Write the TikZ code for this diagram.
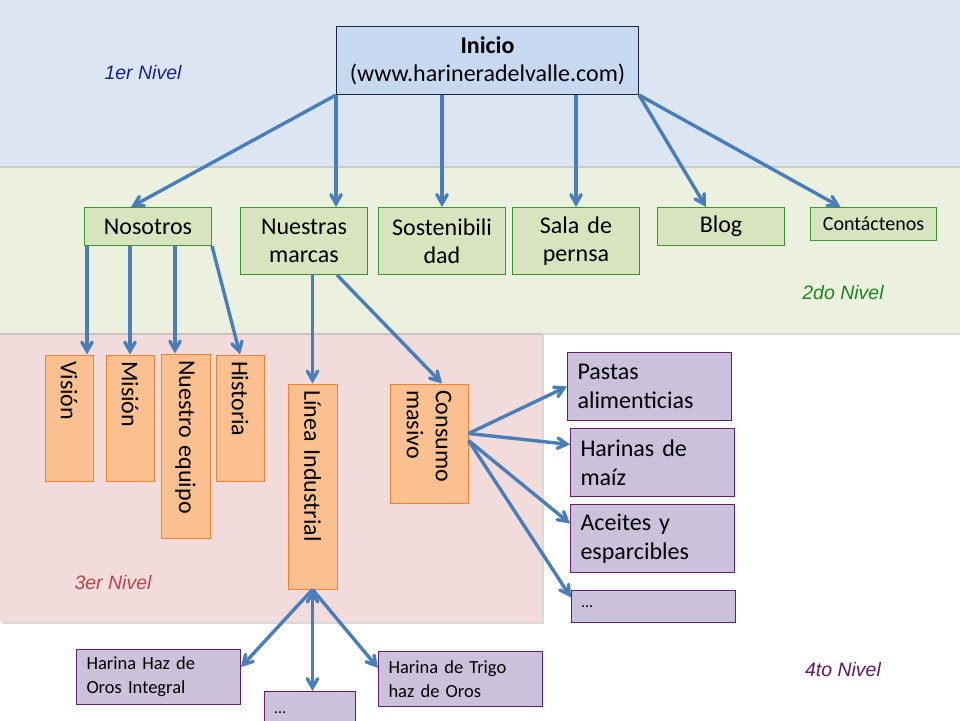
\documentclass[tikz,border=0pt]{standalone}
\usepackage{fontspec}
\setmainfont{Carlito}
\newfontfamily\nivelfont{Liberation Sans}
\usepackage{tikz}
\usetikzlibrary{arrows,positioning,shadows}

\definecolor{bandaAzul}{RGB}{220,230,242}
\definecolor{bandaVerde}{RGB}{235,241,222}
\definecolor{bandaRosa}{RGB}{242,220,219}
\definecolor{inicioFondo}{RGB}{198,217,241}
\definecolor{inicioBorde}{RGB}{28,40,65}
\definecolor{verdeFondo}{RGB}{215,228,189}
\definecolor{verdeBorde}{RGB}{60,150,50}
\definecolor{naranjaFondo}{RGB}{250,192,144}
\definecolor{naranjaBorde}{RGB}{240,130,50}
\definecolor{moradoFondo}{RGB}{204,193,218}
\definecolor{moradoBorde}{RGB}{100,30,110}
\definecolor{flechaAzul}{RGB}{74,126,187}
\definecolor{nivelAzul}{RGB}{30,30,140}
\definecolor{nivelVerde}{RGB}{30,130,30}
\definecolor{nivelRojo}{RGB}{180,70,75}
\definecolor{nivelMorado}{RGB}{95,25,100}

\tikzset{
    inicio/.style={
           rectangle,
           draw=inicioBorde, fill=inicioFondo, line width=1pt,
           minimum width=302pt, minimum height=68pt,
           inner sep=0pt,
           align=center,
           font=\fontsize{24}{28}\selectfont,
           anchor=north west,
           },
    seccion/.style={
           rectangle,
           draw=verdeBorde, fill=verdeFondo, line width=1pt,
           text width=127pt,
           inner sep=0pt,
           align=center,
           font=\fontsize{24}{28}\selectfont,
           anchor=north west,
           },
    pagina/.style={
           rectangle,
           draw=naranjaBorde, fill=naranjaFondo, line width=1pt,
           rotate=-90,
           inner xsep=6pt, inner ysep=0pt,
           align=left,
           font=\fontsize{24}{29}\selectfont,
           anchor=center,
           },
    producto/.style={
           rectangle,
           draw=moradoBorde, fill=moradoFondo, line width=1pt,
           text width=144pt,
           inner xsep=10pt, inner ysep=0pt,
           align=left,
           font=\fontsize{24}{29}\selectfont,
           anchor=north west,
           },
    nivel/.style={
           font=\nivelfont\itshape\fontsize{19.5}{22}\selectfont,
           },
    flecha/.style={
           ->, >=angle 60,
           draw=flechaAzul, line width=3.4pt,
           },
}

\begin{document}
\begin{tikzpicture}[x=1pt,y=-1pt]
 \useasboundingbox (0,0) rectangle (960,720);

 % the three bands, bottom one first so the shadows fall right
 \fill[bandaRosa, drop shadow={opacity=0.3, shadow xshift=2pt, shadow yshift=-2pt}]
  (0,333) rectangle (542,622);
 \fill[bandaVerde, drop shadow={opacity=0.3, shadow xshift=0pt, shadow yshift=-2pt}]
  (0,166) rectangle (960,333);
 \fill[bandaAzul, drop shadow={opacity=0.3, shadow xshift=0pt, shadow yshift=-2pt}]
  (0,0) rectangle (960,166);

 % 1er nivel
 \node[inicio] (INI) at (336,26)
 {\textbf{Inicio}\\(www.harineradelvalle.com)};

 % 2do nivel
 \node[seccion, minimum height=38pt] (NOS) at (84,207) {Nosotros};
 \node[seccion, minimum height=67pt] (NUE) at (240,207) {Nuestras\\marcas};
 \node[seccion, minimum height=67pt] (SOS) at (378,207) {Sostenibili\\dad};
 \node[seccion, minimum height=67pt] (SAL) at (512,207) {Sala de\\pernsa};
 \node[seccion, minimum height=38pt] (BLO) at (657,207) {Blog};
 \node[seccion,
  text width=126pt,
  minimum height=33pt,
  font=\fontsize{20}{24}\selectfont] (CNT) at (810,207) {Contáctenos};

 % 3er nivel: boxes turned, text reads downwards
 \node[pagina, text width=114pt, minimum height=48pt] (VIS) at (69,418) {Visión};
 \node[pagina, text width=114pt, minimum height=48pt] (MIS) at (130,418) {Misión};
 \node[pagina, text width=172pt, minimum height=49pt] (NEQ) at (185.5,446) {Nuestro equipo};
 \node[pagina, text width=114pt, minimum height=48pt] (HIS) at (240,418) {Historia};
 \node[pagina, text width=193pt, minimum height=49pt] (LIN) at (312.5,486.5) {Línea Industrial};
 \node[pagina, text width=107pt, minimum height=78pt] (CON) at (429,443.5) {Consumo\\masivo};

 % 4to nivel
 \node[producto, minimum height=68pt] (PAS) at (567,352) {Pastas\\alimenticias};
 \node[producto, minimum height=68pt] (HAR) at (570,428) {Harinas de\\maíz};
 \node[producto, minimum height=68pt] (ACE) at (570,504) {Aceites y\\esparcibles};
 \node[producto,
  minimum height=32pt,
  font=\fontsize{16}{20}\selectfont] (PUNA) at (571,590) {…};
 \node[producto,
  minimum height=55pt,
  font=\fontsize{18.5}{24}\selectfont] (HHO) at (76,649) {Harina Haz de\\Oros Integral};
 \node[producto,
  text width=71pt,
  minimum height=42pt,
  font=\fontsize{16}{20}\selectfont] (PUNB) at (264,691) {…};
 \node[producto,
  minimum height=55pt,
  font=\fontsize{18.5}{24}\selectfont] (HTR) at (378,651) {Harina de Trigo\\haz de Oros};

 % level names
 \node[nivel, text=nivelAzul] (N1) at (143,73) {1er Nivel};
 \node[nivel, text=nivelVerde] (N2) at (843,293) {2do Nivel};
 \node[nivel, text=nivelRojo] (N3) at (113,583) {3er Nivel};
 \node[nivel, text=nivelMorado] (N4) at (843,670) {4to Nivel};

 % arrows from Inicio
 \path[flecha]
 (INI.south west)	edge	([xshift=-17pt]NOS.north)
 (INI.south west)	edge	(INI.south west |- NUE.north)
 (SOS.north |- INI.south)	edge	(SOS.north)
 (SAL.north |- INI.south)	edge	(SAL.north)
 (INI.south east)	edge	([xshift=-15pt]BLO.north)
 (INI.south east)	edge	([xshift=-33pt]CNT.north)

 % arrows from the 2do nivel
 ([xshift=-61pt]NOS.south)	edge	([xshift=-61pt]NOS.south |- VIS.west)
 (MIS.west |- NOS.south)	edge	(MIS.west)
 ([xshift=27pt]NOS.south)	edge	([xshift=27pt]NOS.south |- NEQ.west)
 (NOS.south east)	edge	(HIS.west)
 (LIN.west |- NUE.south)	edge	(LIN.west)
 ([xshift=33pt]NUE.south)	edge	([xshift=13pt]CON.west)

 % arrows to the 4to nivel
 ([yshift=10pt]CON.north)	edge	(PAS.west)
 ([yshift=10pt]CON.north)	edge	([yshift=18pt]HAR.west)
 ([yshift=3pt]CON.north)	edge	([yshift=15pt]ACE.west)
 ([yshift=3pt]CON.north)	edge	([yshift=9pt]PUNA.west)
 (LIN.east)	edge	([yshift=10pt]HHO.east)
 (LIN.east)	edge	(LIN.east |- PUNB.north)
 (LIN.east)	edge	([yshift=11pt]HTR.west)
 ;
\end{tikzpicture}
\end{document}
